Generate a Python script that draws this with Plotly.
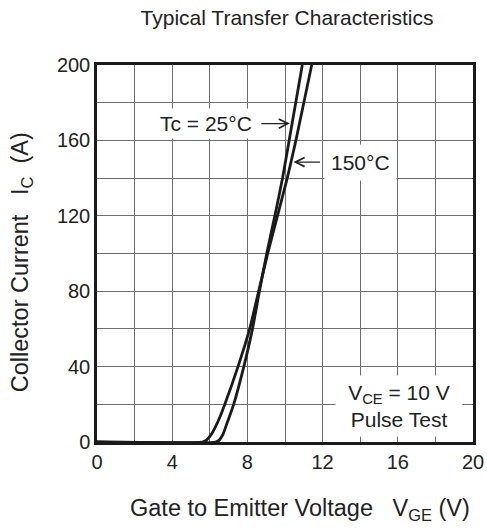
import plotly.graph_objects as go

# ---- data ----
vge_25 = [0, 6.3, 6.5, 6.7, 6.9, 7.27, 7.81, 8.27, 8.64, 9.03, 9.46, 9.87, 10.22, 10.57, 10.92]
ic_25 = [0, 0, 1, 4, 9.5, 20, 40, 60, 80, 100, 120, 140, 160, 180, 200]

vge_150 = [0, 5.6, 5.8, 6.0, 6.15, 6.3, 6.55, 6.8, 7.5, 8.12, 8.6, 9.08, 9.6, 10.12, 10.58, 11.0, 11.42]
ic_150 = [0, 0, 0.8, 3, 5.2, 8, 13.5, 20, 40, 60, 80, 100, 120, 140, 160, 180, 200]

x_tickvals = [0, 4, 8, 12, 16, 20]
x_ticktext = ["0", "4", "8", "12", "16", "20"]
y_tickvals = [0, 40, 80, 120, 160, 200]
y_ticktext = ["0", "40", "80", "120", "160", "200"]

FONT = "Liberation Sans, Arial, Helvetica, sans-serif"
TXT = "#222222"
LINE = "#1a1a1a"
GRID = "#6e6e6e"

fig = go.Figure()
fig.add_trace(go.Scatter(x=vge_25, y=ic_25, mode="lines",
                         line=dict(color=LINE, width=2.8, shape="spline", smoothing=0.5),
                         showlegend=False, hoverinfo="skip"))
fig.add_trace(go.Scatter(x=vge_150, y=ic_150, mode="lines",
                         line=dict(color=LINE, width=2.8, shape="spline", smoothing=0.5),
                         showlegend=False, hoverinfo="skip"))

axis_common = dict(showgrid=True, gridcolor=GRID, gridwidth=1,
                   showline=True, linecolor="#1a1a1a", linewidth=2.5, mirror=True,
                   ticks="", zeroline=False, automargin=False, ticklabeloverflow="allow",
                   tickfont=dict(family=FONT, size=20, color=TXT))

fig.update_xaxes(range=[0, 20], tickmode="array", tickvals=x_tickvals, ticktext=x_ticktext,
                 minor=dict(dtick=2, tick0=0, showgrid=True, gridcolor=GRID, gridwidth=1, ticks=""),
                 **axis_common)
fig.update_yaxes(range=[0, 200], tickmode="array", tickvals=y_tickvals, ticktext=y_ticktext,
                 minor=dict(dtick=20, tick0=0, showgrid=True, gridcolor=GRID, gridwidth=1, ticks=""),
                 **axis_common)

annots = []
# text labels
annots.append(dict(x=5.8, y=168.9, xref="x", yref="y", text="Tc = 25°C", showarrow=False,
                   font=dict(family=FONT, size=21, color=TXT), bgcolor="white", borderpad=3))
annots.append(dict(x=14.03, y=148.5, xref="x", yref="y", text="150°C", showarrow=False,
                   font=dict(family=FONT, size=21, color=TXT), bgcolor="white", borderpad=6))
# arrows
annots.append(dict(x=10.26, y=168.9, xref="x", yref="y", ax=8.66, ay=168.9, axref="x", ayref="y",
                   text="", showarrow=True, arrowhead=5, arrowsize=1.5, arrowwidth=1.2,
                   arrowcolor="#222222"))
annots.append(dict(x=10.45, y=148.5, xref="x", yref="y", ax=11.94, ay=148.5, axref="x", ayref="y",
                   text="", showarrow=True, arrowhead=5, arrowsize=1.5, arrowwidth=1.2,
                   arrowcolor="#222222"))
# condition box
annots.append(dict(x=16.05, y=19.2, xref="x", yref="y",
                   text="V<sub>CE</sub> = 10 V<br>Pulse Test", showarrow=False,
                   font=dict(family=FONT, size=21, color=TXT), bgcolor="white",
                   width=120, height=54, borderpad=3))
# axis titles
annots.append(dict(x=-0.202, y=0.477, xref="paper", yref="paper", textangle=-90,
                   text="Collector Current&nbsp;&nbsp;&nbsp;I<sub>C</sub>&nbsp;&nbsp;(A)", showarrow=False,
                   font=dict(family=FONT, size=23.5, color=TXT), xanchor="center", yanchor="middle"))
annots.append(dict(x=0.54, y=-0.18, xref="paper", yref="paper",
                   text="Gate to Emitter Voltage&nbsp;&nbsp;&nbsp;V<sub>GE</sub> (V)", showarrow=False,
                   font=dict(family=FONT, size=23.5, color=TXT), xanchor="center", yanchor="middle"))

fig.update_layout(
    width=487, height=529,
    margin=dict(l=97, r=14, t=65, b=87, autoexpand=False),
    paper_bgcolor="white", plot_bgcolor="white",
    title=dict(text="Typical Transfer Characteristics", x=287 / 487, xanchor="center",
               y=1 - 17.5 / 529, yanchor="middle", yref="container",
               font=dict(family=FONT, size=21, color=TXT)),
    annotations=annots,
)

fig.write_html("out.html")
